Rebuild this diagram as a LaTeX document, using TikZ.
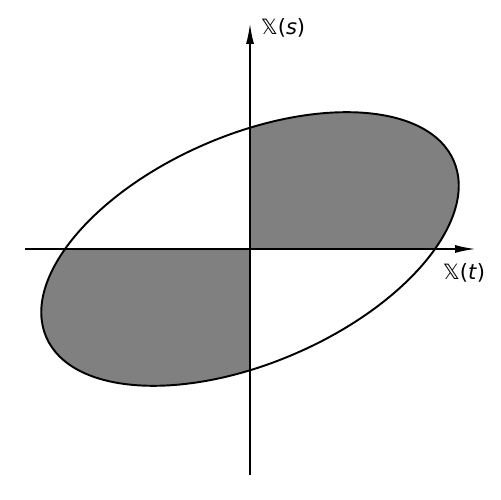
\documentclass[tikz,border=0pt]{standalone}
\usepackage{fontspec}
\setmainfont{DejaVu Sans}
\usetikzlibrary{arrows.meta}
\newcommand{\bbX}{\symbol{"1D54F}}
\begin{document}
\begin{tikzpicture}[x=0.02cm,y=0.02cm,
  axis/.style={line width=1.1pt,-{Latex[length=0.42cm,width=0.16cm]}},
  lbl/.style={font=\fontsize{12}{14}\selectfont, inner sep=0pt}]
\useasboundingbox (0,0) rectangle (500,500);
\coordinate (O) at (250,251);
\begin{scope}
  \clip (O) ellipse[x radius=222, y radius=114, rotate=23.4];
  \fill[fill={rgb,255:red,128;green,128;blue,128}] (O) rectangle (480,480);
  \fill[fill={rgb,255:red,128;green,128;blue,128}] (O) rectangle (20,20);
\end{scope}
\draw[line width=1.1pt] (O) ellipse[x radius=222, y radius=114, rotate=23.4];
\coordinate (xl) at (25,251);
\coordinate (xr) at (476,251);
\coordinate (yb) at (250,25);
\coordinate (yt) at (250,477);
\draw[axis] (xl) -- (xr);
\draw[axis] (yb) -- (yt);
\node[lbl] (ls) at (283,472) {\bbX(\textit{s})};
\node[lbl] (lt) at (464,227) {\bbX(\textit{t})};
\end{tikzpicture}
\end{document}
